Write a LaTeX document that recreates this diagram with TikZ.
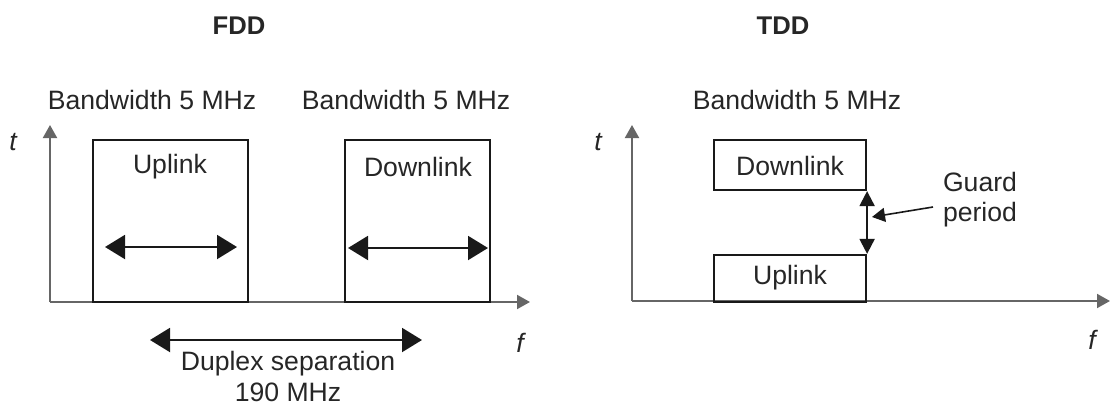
\documentclass[tikz,border=0pt]{standalone}
\usepackage{fontspec}
\setmainfont{Liberation Sans}
\usetikzlibrary{arrows.meta}
\begin{document}
\begin{tikzpicture}[x=0.5pt,y=-0.5pt,
  lbl/.style={font=\fontsize{13.3}{16}\selectfont, inner sep=0pt, text=black!85},
  ttl/.style={font=\fontsize{12.8}{14}\selectfont\bfseries, inner sep=0pt, text=black!85},
  var/.style={font=\fontsize{13.3}{14}\selectfont\itshape, inner sep=0pt, text=black!85},
  ax/.style={draw=black!60, line width=1pt, -{Triangle[length=6.5pt,width=7pt]}},
  boxn/.style={draw=black!90, line width=1.1pt, inner sep=0pt},
  dbl/.style={draw=black!90, line width=1pt, {Triangle[length=10pt,width=12pt]}-{Triangle[length=10pt,width=12pt]}},
  dbls/.style={draw=black!90, line width=1pt, {Triangle[length=7.5pt,width=7.5pt]}-{Triangle[length=7.5pt,width=7.5pt]}},
  ptr/.style={draw=black!90, line width=0.8pt, -{Triangle[length=6.5pt,width=7pt]}},
]
\useasboundingbox (0,0) rectangle (1110,407);

% ---------- FDD ----------
\node[ttl] (fdd) at (239,26) {FDD};
\node[lbl] (bw1) at (152,100) {Bandwidth 5 MHz};
\node[lbl] (bw2) at (406,100) {Bandwidth 5 MHz};
\node[var] (t1) at (13,142) {t};
\node[var] (f1) at (520,343) {f};

\coordinate (o1) at (50,302);
\coordinate (ty1) at (50,125);
\coordinate (fx1) at (530,302);
\draw[ax] (o1) -- (ty1);
\draw[ax] (o1) -- (fx1);

\node[boxn, minimum width=77.5pt, minimum height=81pt] (ul) at (170.5,221) {};
\node[lbl] (ult) at (170,167) {Uplink};
\node[boxn, minimum width=72.5pt, minimum height=81pt] (dl) at (417.5,221) {};
\node[lbl] (dlt) at (418,167) {Downlink};

\coordinate (ula) at (105,247);
\coordinate (ulb) at (237,247);
\draw[dbl] (ula) -- (ulb);
\coordinate (dla) at (348,248);
\coordinate (dlb) at (488,248);
\draw[dbl] (dla) -- (dlb);

\coordinate (da) at (150,340);
\coordinate (db) at (422,340);
\draw[dbl] (da) -- (db);
\node[lbl, align=center, font=\fontsize{13.3}{15.5}\selectfont] (dup) at (288,376.5) {Duplex separation\\190 MHz};

% ---------- TDD ----------
\node[ttl] (tdd) at (783,26) {TDD};
\node[lbl] (bw3) at (797,100) {Bandwidth 5 MHz};
\node[var] (t2) at (598,142) {t};
\node[var] (f2) at (1092,340) {f};

\coordinate (o2) at (632,301);
\coordinate (ty2) at (632,125);
\coordinate (fx2) at (1110,301);
\draw[ax] (o2) -- (ty2);
\draw[ax] (o2) -- (fx2);

\node[boxn, minimum width=76pt, minimum height=25pt] (tdl) at (790,165) {};
\node[lbl] (tdlt) at (790,166) {Downlink};
\node[boxn, minimum width=76pt, minimum height=23.5pt] (tul) at (790,278.5) {};
\node[lbl] (tult) at (790,278) {Uplink};

\draw[dbls] (tdl.south east) -- (tul.north east);
\node[lbl, align=left, font=\fontsize{13.3}{15}\selectfont] (guard) at (980,200) {Guard\\period};
\coordinate (gs) at (933,207);
\coordinate (gp) at (872,217);
\draw[ptr] (gs) -- (gp);

\end{tikzpicture}
\end{document}
